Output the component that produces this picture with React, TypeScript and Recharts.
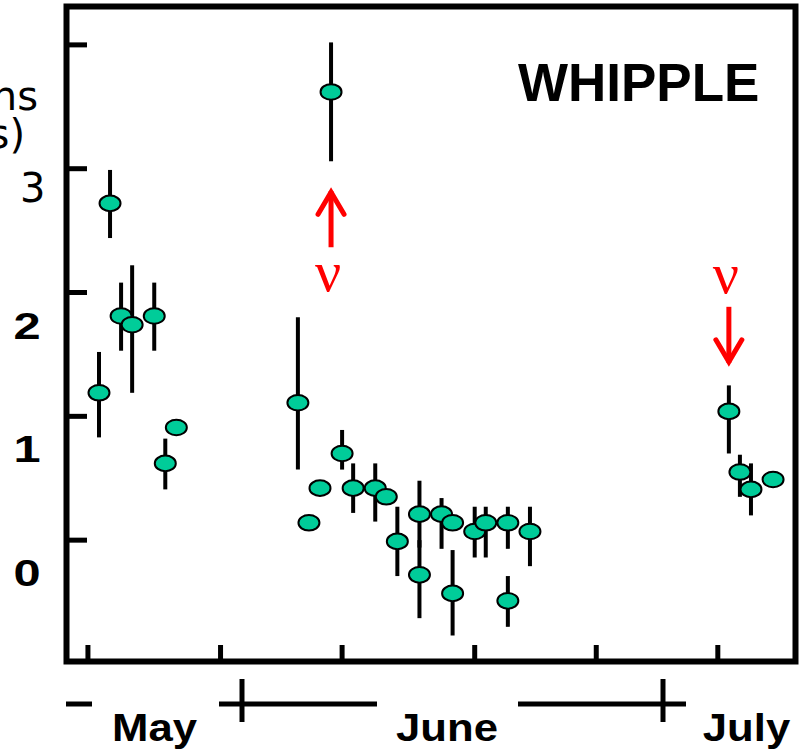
import { ScatterChart, Scatter, XAxis, YAxis, ErrorBar, ReferenceArea } from 'recharts'

const days = [0, 1, 2, 3, 5, 6, 7, 18, 19, 20, 21, 22, 23, 25, 26, 27, 29, 29, 31, 32, 32, 34, 35, 37, 37, 39, 57, 58, 59, 61]
const rates = [1.19, 2.72, 1.81, 1.74, 1.81, 0.62, 0.91, 1.11, 0.14, 0.42, 3.62, 0.7, 0.42, 0.42, 0.35, -0.01, 0.21, -0.28, 0.21, 0.14, -0.43, 0.07, 0.14, 0.14, -0.49, 0.07, 1.04, 0.55, 0.41, 0.49]
const errDown = [0.36, 0.28, 0.28, 0.55, 0.28, 0.21, 0, 0.54, 0, 0, 0.56, 0.13, 0.2, 0.27, 0, 0.28, 0.27, 0.35, 0.28, 0, 0.34, 0.21, 0.28, 0.21, 0.21, 0.28, 0.34, 0.2, 0.21, 0]
const errUp = [0.33, 0.27, 0.27, 0.48, 0.27, 0.2, 0, 0.69, 0, 0, 0.4, 0.19, 0.2, 0.2, 0, 0.28, 0.27, 0.28, 0.13, 0, 0.35, 0.2, 0.13, 0.13, 0.2, 0.2, 0.21, 0.14, 0.21, 0]

const xTicks = [-1, 11, 22, 34, 45, 56]
const yTicks = [0, 1, 2, 3, 4]
const yTickLabels = ['0', '1', '2', '3', '']

// neutrino alerts
const arrowDays = [21, 57]
const arrowTips = [2.85, 1.4]
const arrowDirs = ['up', 'down']

const months = ['May', 'June', 'July']

const X_DOMAIN: [number, number] = [-2.94, 63.03]
const Y_DOMAIN: [number, number] = [-0.98, 4.31]

const points = days.map((d, i) => ({ day: d, rate: rates[i], err: [errDown[i], errUp[i]] }))
const arrows = arrowDays.map((d, i) => ({ day: d, rate: arrowTips[i], dir: arrowDirs[i] }))

const Marker = (props: any) => {
  const { cx, cy } = props
  return <ellipse cx={cx} cy={cy} rx={10.5} ry={7.8} fill="#00CC99" stroke="#000" strokeWidth={2} />
}

const NuArrow = (props: any) => {
  const { cx, cy, payload } = props
  const s = payload.dir === 'up' ? 1 : -1
  const nuY = s > 0 ? cy + 104 : cy - 74
  return (
    <g>
      <line x1={cx} y1={cy + s * 4} x2={cx} y2={cy + s * 60} stroke="#ff0000" strokeWidth={5} />
      <polyline
        points={`${cx - 13},${cy + s * 27} ${cx},${cy + s * 5} ${cx + 13},${cy + s * 27}`}
        fill="none"
        stroke="#ff0000"
        strokeWidth={5}
        strokeLinecap="round"
      />
      <text x={cx - 3} y={nuY} textAnchor="middle" fontFamily="Liberation Serif" fontSize={58} fill="#ff0000">
        ν
      </text>
    </g>
  )
}

const YTick = (props: any) => {
  const { y, payload } = props
  const label = yTickLabels[yTicks.indexOf(payload.value)]
  if (!label) return <g />
  if (payload.value === 3) {
    return (
      <text x={20} y={y + 33} fontFamily="DejaVu Sans" fontSize={40} fill="#000">
        {label}
      </text>
    )
  }
  return (
    <text
      transform={`translate(27,${y + 46}) scale(1.3,1)`}
      textAnchor="middle"
      fontFamily="Liberation Sans"
      fontWeight="bold"
      fontSize={37.5}
      fill="#000"
    >
      {label}
    </text>
  )
}

const monthStyle = { fontFamily: 'Liberation Sans', fontWeight: 'bold' as const, fontSize: 38 }

export default function App() {
  return (
    <div style={{ position: 'absolute', left: 0, top: 0, width: 805, height: 751, background: '#fff' }}>
      <ScatterChart width={805} height={751} margin={{ top: 6.5, right: 9.5, bottom: 89.5, left: 66.5 }}>
        <XAxis
          dataKey="day"
          type="number"
          domain={X_DOMAIN}
          allowDataOverflow
          ticks={xTicks}
          mirror
          height={1}
          axisLine={false}
          tickSize={16.5}
          tickLine={{ stroke: '#000', strokeWidth: 5 }}
          tick={() => <g />}
        />
        <YAxis
          dataKey="rate"
          type="number"
          domain={Y_DOMAIN}
          allowDataOverflow
          ticks={yTicks}
          mirror
          width={1}
          axisLine={false}
          tickSize={20.5}
          tickLine={{ stroke: '#000', strokeWidth: 5 }}
          tick={YTick}
        />
        <ReferenceArea
          x1={X_DOMAIN[0]}
          x2={X_DOMAIN[1]}
          y1={Y_DOMAIN[0]}
          y2={Y_DOMAIN[1]}
          fill="none"
          stroke="#000"
          strokeWidth={6}
          ifOverflow="visible"
        />
        <Scatter data={points} shape={Marker} isAnimationActive={false}>
          <ErrorBar dataKey="err" direction="y" width={0} stroke="#000" strokeWidth={4} />
        </Scatter>
        <Scatter data={arrows} shape={NuArrow} isAnimationActive={false} />
      </ScatterChart>
      <svg width={805} height={751} style={{ position: 'absolute', left: 0, top: 0, pointerEvents: 'none' }}>
        <text x={38} y={110} textAnchor="end" fontFamily="DejaVu Sans" fontSize={40} fill="#000">ns</text>
        <text x={25} y={148} textAnchor="end" fontFamily="DejaVu Sans" fontSize={40} fill="#000">s)</text>
        <text x={518} y={101} fontFamily="Liberation Sans" fontWeight="bold" fontSize={53} fill="#000">WHIPPLE</text>
        <g stroke="#000" strokeWidth={5}>
          <line x1={66} y1={704} x2={92} y2={704} />
          <line x1={219} y1={704} x2={377} y2={704} />
          <line x1={242} y1={679} x2={242} y2={722} />
          <line x1={518} y1={704} x2={686} y2={704} />
          <line x1={663} y1={679} x2={663} y2={722} />
        </g>
        <text transform="translate(154.5,741) scale(1.15,1)" textAnchor="middle" {...monthStyle}>{months[0]}</text>
        <text transform="translate(447,741) scale(1.15,1)" textAnchor="middle" {...monthStyle}>{months[1]}</text>
        <text transform="translate(746.5,741) scale(1.15,1)" textAnchor="middle" {...monthStyle}>{months[2]}</text>
      </svg>
    </div>
  )
}
